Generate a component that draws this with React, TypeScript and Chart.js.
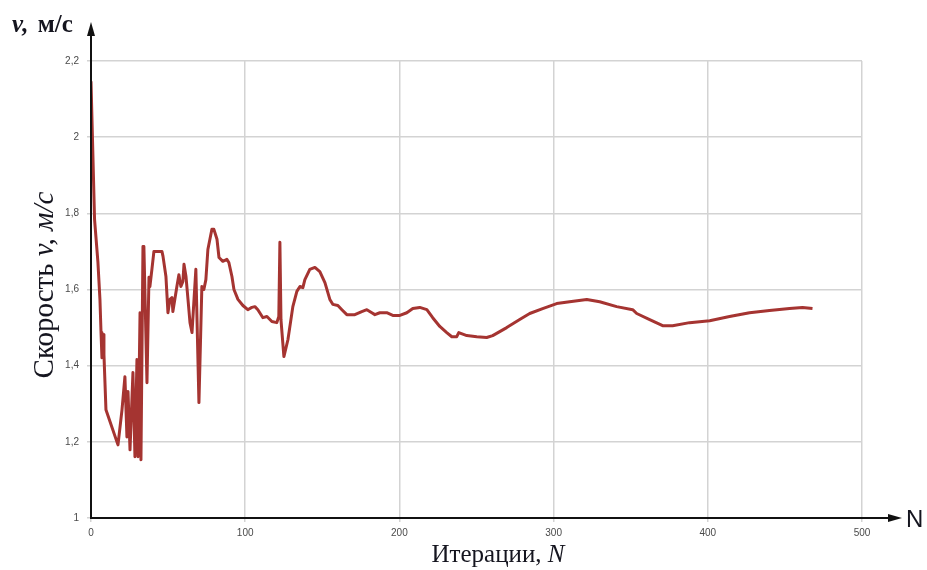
import React, { useEffect, useRef } from "react";
import { Chart, registerables } from "chart.js";

Chart.register(...registerables);

// Iteration number N
const iterations = [
  0, 2.3, 4.5, 5.8, 6.5, 7.1, 7.8, 8.4, 9.7, 17.5, 20.1, 22.0, 23.3, 24.0, 25.3, 27.2, 28.5, 29.8,
  30.5, 31.8, 32.4, 33.7, 34.3, 36.3, 37.6, 38.2, 39.5, 40.8, 46.0, 46.7, 48.6, 49.9, 51.2, 52.5,
  53.1, 55.7, 57.0, 58.3, 59.6, 60.3, 61.6, 62.9, 64.2, 65.5, 68.0, 70.0, 71.9, 73.2, 74.5, 75.8,
  78.4, 79.7, 81.7, 83.0, 85.5, 88.1, 89.4, 91.4, 92.7, 95.3, 98.5, 101.7, 104.3, 106.3, 108.2,
  111.5, 114.1, 117.3, 120.5, 121.8, 122.5, 123.2, 125.1, 127.7, 130.9, 133.5, 135.5, 137.4, 138.7,
  141.9, 145.2, 148.4, 151.7, 154.9, 156.8, 160.1, 162.7, 165.9, 171.1, 175.6, 178.9, 182.1, 184.1,
  187.3, 191.8, 195.7, 200.3, 204.8, 208.7, 213.2, 217.8, 221.6, 226.2, 230.7, 234.0, 237.2, 238.5,
  243.7, 250.2, 256.6, 260.5, 269.6, 278.0, 284.5, 292.9, 302.0, 310.4, 321.5, 329.9, 340.9, 351.3,
  353.9, 362.3, 370.7, 377.2, 388.2, 401.2, 414.1, 427.1, 440.0, 453.0, 461.4, 467.9,
];

// Speed v, m/s
const speeds = [
  2.147, 1.784, 1.671, 1.574, 1.487, 1.421, 1.482, 1.429, 1.284, 1.192, 1.284, 1.371, 1.213, 1.332,
  1.179, 1.382, 1.161, 1.416, 1.161, 1.539, 1.153, 1.713, 1.713, 1.355, 1.632, 1.608, 1.653, 1.7,
  1.7, 1.687, 1.634, 1.539, 1.574, 1.579, 1.542, 1.608, 1.639, 1.608, 1.621, 1.666, 1.634, 1.574,
  1.513, 1.487, 1.653, 1.303, 1.608, 1.6, 1.626, 1.705, 1.758, 1.758, 1.732, 1.684, 1.674, 1.679,
  1.671, 1.634, 1.6, 1.574, 1.558, 1.547, 1.553, 1.555, 1.547, 1.526, 1.529, 1.516, 1.513, 1.529,
  1.724, 1.52, 1.424, 1.468, 1.555, 1.595, 1.608, 1.605, 1.626, 1.653, 1.658, 1.647, 1.618, 1.574,
  1.561, 1.558, 1.547, 1.534, 1.534, 1.542, 1.547, 1.539, 1.534, 1.539, 1.539, 1.532, 1.532, 1.539,
  1.55, 1.553, 1.547, 1.526, 1.503, 1.487, 1.476, 1.476, 1.487, 1.479, 1.476, 1.474, 1.479, 1.5,
  1.521, 1.537, 1.55, 1.563, 1.568, 1.574, 1.568, 1.555, 1.547, 1.537, 1.521, 1.505, 1.505, 1.513,
  1.518, 1.529, 1.539, 1.545, 1.55, 1.553, 1.55,
];

const xTicks = [0, 100, 200, 300, 400, 500];
const yTicks = [1, 1.2, 1.4, 1.6, 1.8, 2, 2.2];

const TEXT = "#15151f";

const decorPlugin = {
  id: "decor",
  afterDraw(chart: any) {
    const { ctx, chartArea } = chart;
    const x0 = chartArea.left;
    const y0 = chartArea.bottom;
    ctx.save();
    ctx.strokeStyle = "#111";
    ctx.fillStyle = "#111";
    ctx.lineWidth = 2;
    // y axis with arrow
    const tipY = chartArea.top - 39;
    ctx.beginPath();
    ctx.moveTo(x0, y0 + 1);
    ctx.lineTo(x0, tipY + 10);
    ctx.stroke();
    ctx.beginPath();
    ctx.moveTo(x0, tipY);
    ctx.lineTo(x0 - 4, tipY + 14);
    ctx.lineTo(x0 + 4, tipY + 14);
    ctx.closePath();
    ctx.fill();
    // x axis with arrow
    const tipX = chartArea.right + 40;
    ctx.beginPath();
    ctx.moveTo(x0 - 1, y0);
    ctx.lineTo(tipX - 10, y0);
    ctx.stroke();
    ctx.beginPath();
    ctx.moveTo(tipX, y0);
    ctx.lineTo(tipX - 14, y0 - 4);
    ctx.lineTo(tipX - 14, y0 + 4);
    ctx.closePath();
    ctx.fill();

    ctx.fillStyle = TEXT;
    ctx.textBaseline = "alphabetic";
    ctx.textAlign = "left";
    // N at arrow
    ctx.font = '24px "Liberation Sans"';
    ctx.fillText("N", tipX + 4, y0 + 9);

    // top-left label "v, м/с"
    ctx.font = 'italic bold 25px "Liberation Serif"';
    ctx.fillText("v,", 12, 32);
    const w1 = ctx.measureText("v, ").width;
    ctx.font = 'bold 25px "Liberation Serif"';
    ctx.fillText("м/с", 12 + w1 + 3, 32);

    // x title "Итерации, N"
    const parts1 = [
      { t: "Итерации, ", f: '25px "Liberation Serif"' },
      { t: "N", f: 'italic 25px "Liberation Serif"' },
    ];
    let total = 0;
    parts1.forEach((p) => {
      ctx.font = p.f;
      total += ctx.measureText(p.t).width;
    });
    let cx = 498 - total / 2;
    parts1.forEach((p) => {
      ctx.font = p.f;
      ctx.fillText(p.t, cx, 562);
      cx += ctx.measureText(p.t).width;
    });

    // y title rotated
    const parts2 = [
      { t: "Скорость ", f: '29px "Liberation Serif"' },
      { t: "v, м/с", f: 'italic 29px "Liberation Serif"' },
    ];
    ctx.save();
    ctx.translate(53, 285);
    ctx.rotate(-Math.PI / 2);
    total = 0;
    parts2.forEach((p) => {
      ctx.font = p.f;
      total += ctx.measureText(p.t).width;
    });
    cx = -total / 2;
    parts2.forEach((p) => {
      ctx.font = p.f;
      ctx.fillText(p.t, cx, 0);
      cx += ctx.measureText(p.t).width;
    });
    ctx.restore();
    ctx.restore();
  },
};

export default function App() {
  const ref = useRef<HTMLCanvasElement | null>(null);
  useEffect(() => {
    if (!ref.current) return;
    const points = iterations.map((n, i) => ({ x: n, y: speeds[i] }));
    const chart = new Chart(ref.current, {
      type: "line",
      data: {
        datasets: [
          {
            data: points,
            borderColor: "#a53431",
            borderWidth: 3,
            pointRadius: 0,
            tension: 0,
            fill: false,
            borderJoinStyle: "round",
          },
        ],
      },
      options: {
        animation: false,
        responsive: false,
        maintainAspectRatio: false,
        layout: { padding: { top: 61, right: 65, left: 0, bottom: 0 } },
        plugins: { legend: { display: false }, tooltip: { enabled: false } },
        scales: {
          x: {
            type: "linear",
            min: 0,
            max: 500,
            afterBuildTicks: (s: any) => {
              s.ticks = xTicks.map((v) => ({ value: v }));
            },
            afterFit: (s: any) => {
              s.height = 52;
            },
            grid: { color: "#d3d3d3", lineWidth: 1.5, tickLength: 4, drawTicks: true },
            border: { display: false },
            ticks: {
              font: { size: 10, family: '"Liberation Sans"' },
              color: "#4a4a4a",
              padding: 5,
              maxRotation: 0,
            },
          },
          y: {
            type: "linear",
            min: 1,
            max: 2.2,
            afterBuildTicks: (s: any) => {
              s.ticks = yTicks.map((v) => ({ value: v }));
            },
            afterFit: (s: any) => {
              s.width = 91;
            },
            grid: { color: "#d3d3d3", lineWidth: 1.5, tickLength: 4, drawTicks: true },
            border: { display: false },
            ticks: {
              font: { size: 10, family: '"Liberation Sans"' },
              color: "#4a4a4a",
              padding: 8,
              callback: (v: any) => String(Number(Number(v).toFixed(1))).replace(".", ","),
            },
          },
        },
      },
      plugins: [decorPlugin],
    });
    return () => chart.destroy();
  }, []);
  return (
    <div style={{ position: "fixed", left: 0, top: 0, width: 927, height: 570, background: "#fff" }}>
      <canvas ref={ref} width={927} height={570} style={{ width: 927, height: 570 }} />
    </div>
  );
}
